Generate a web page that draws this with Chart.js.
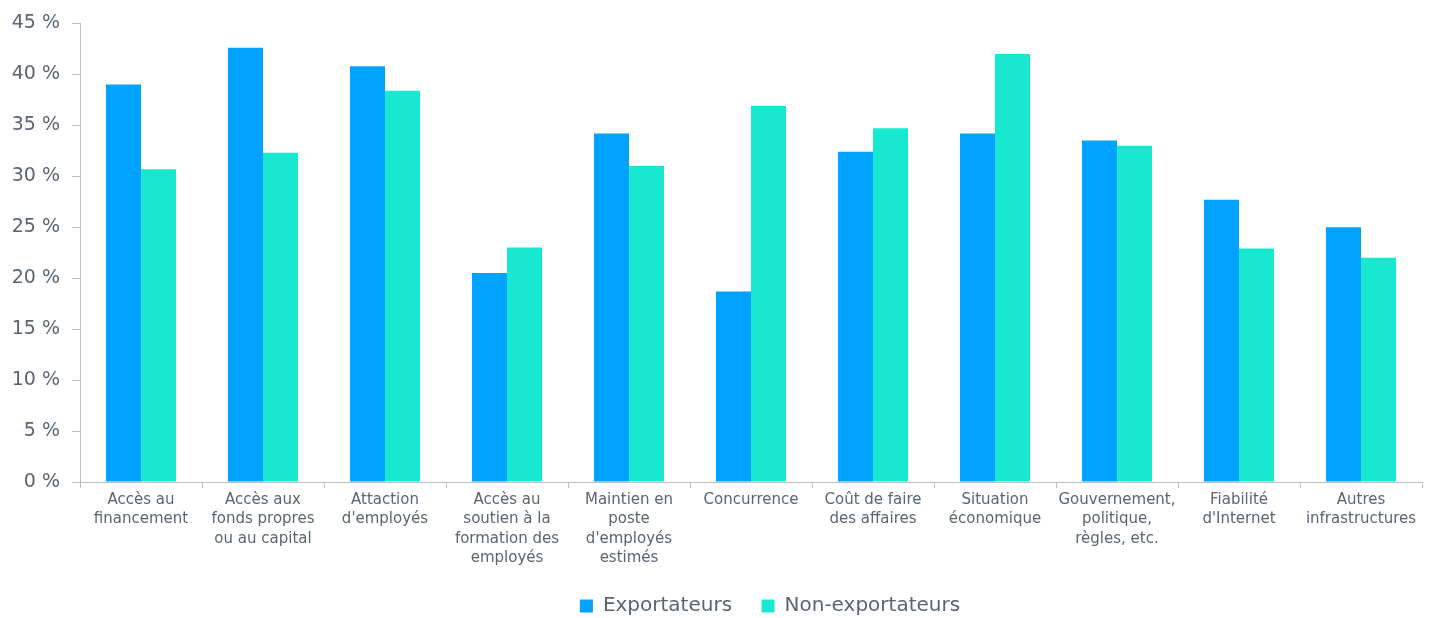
<!DOCTYPE html>
<html><head><meta charset="utf-8">
<script src="https://cdn.jsdelivr.net/npm/chart.js@4"></script>
<style>html,body{margin:0;padding:0;background:#fff}#wrap{width:1429px;height:618px}</style>
</head><body><div id="wrap"><canvas id="c" width="1429" height="618"></canvas></div>
<script>
const categories = [
  ["Accès au","financement"],
  ["Accès aux","fonds propres","ou au capital"],
  ["Attaction","d'employés"],
  ["Accès au","soutien à la","formation des","employés"],
  ["Maintien en","poste","d'employés","estimés"],
  ["Concurrence"],
  ["Coût de faire","des affaires"],
  ["Situation","économique"],
  ["Gouvernement,","politique,","règles, etc."],
  ["Fiabilité","d'Internet"],
  ["Autres","infrastructures"]
];
const seriesNames = ["Exportateurs","Non-exportateurs"];
const exportateurs = [39.0, 42.6, 40.8, 20.5, 34.2, 18.7, 32.4, 34.2, 33.5, 27.7, 25.0];
const nonExportateurs = [30.7, 32.3, 38.4, 23.0, 31.0, 36.9, 34.7, 42.0, 33.0, 22.9, 22.0];
const yTicks = [0,5,10,15,20,25,30,35,40,45];

const FONT = "'DejaVu Sans', sans-serif";
const TXT = '#5b6472';
const AX = '#bfbfbf';

const shiftLegend = {
  id: 'shiftLegend',
  afterLayout(chart) {
    const lg = chart.legend;
    if (lg) { lg.left += 118; lg.top += 8; lg.bottom += 8; }
  }
};

new Chart(document.getElementById('c'), {
  type: 'bar',
  data: {
    labels: categories,
    datasets: [
      {label: seriesNames[0], data: exportateurs, backgroundColor: '#00a2ff', borderWidth: 0},
      {label: seriesNames[1], data: nonExportateurs, backgroundColor: '#19e8d1', borderWidth: 0}
    ]
  },
  plugins: [shiftLegend],
  options: {
    responsive: false,
    animation: false,
    devicePixelRatio: 1,
    layout: {padding: {top: 21, right: 7, bottom: 0, left: 0}},
    datasets: {bar: {categoryPercentage: 0.574, barPercentage: 1.0}},
    plugins: {
      tooltip: {enabled: false},
      legend: {
        position: 'bottom',
        labels: {
          font: {family: FONT, size: 20},
          color: TXT,
          boxWidth: 13, boxHeight: 13,
          padding: 4,
          generateLabels: (chart) => {
            const items = Chart.defaults.plugins.legend.labels.generateLabels(chart);
            if (items.length) items[0].text = items[0].text + '    ';
            return items;
          }
        }
      }
    },
    scales: {
      x: {
        grid: {display: true, drawOnChartArea: false, offset: true, color: AX, tickLength: 6},
        border: {display: true, color: AX, width: 1},
        ticks: {font: {family: FONT, size: 15, lineHeight: 1.3}, color: TXT, maxRotation: 0, autoSkip: false, padding: 2},
        afterFit: s => { s.height = 102; }
      },
      y: {
        min: 0, max: 45,
        afterBuildTicks: s => { s.ticks = yTicks.map(v => ({value: v})); },
        grid: {display: true, drawOnChartArea: false, color: AX, tickLength: 8},
        border: {display: true, color: AX, width: 1},
        ticks: {font: {family: FONT, size: 19}, color: TXT, padding: 12, callback: v => v + ' %'},
        afterFit: s => { s.width = 80; }
      }
    }
  }
});
</script></body></html>
